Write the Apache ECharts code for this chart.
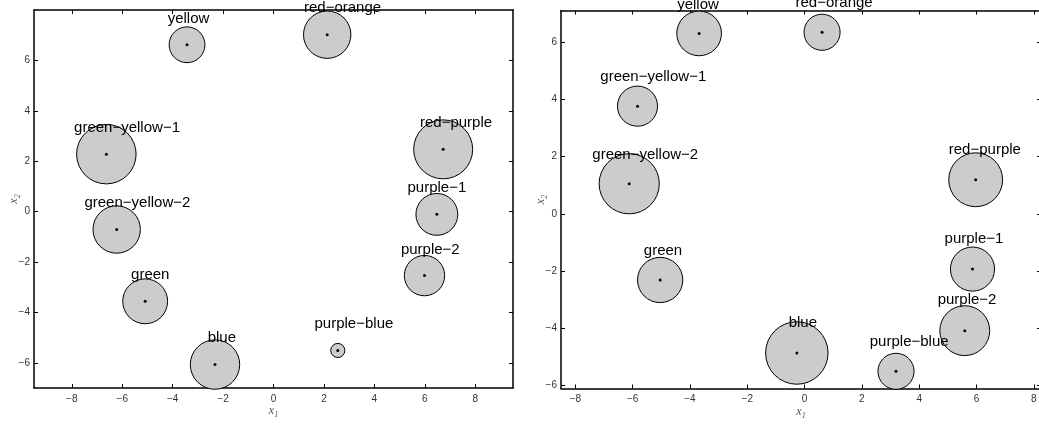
<!DOCTYPE html>
<html>
<head>
<meta charset="utf-8">
<script src="https://cdn.jsdelivr.net/npm/echarts@6/dist/echarts.min.js"></script>
<style>
html,body{margin:0;padding:0;background:#fff;}
#chart{width:1039px;height:425px;}
</style>
</head>
<body>
<div id="chart"></div>
<script>
// ---- data ----
const names = ['yellow','red\u2212orange','green\u2212yellow\u22121','red\u2212purple','purple\u22121',
               'green\u2212yellow\u22122','purple\u22122','green','blue','purple\u2212blue'];

// left panel
const leftX  = [-3.43, 2.13, -6.63, 6.73, 6.48, -6.22, 5.99, -5.09, -2.32, 2.55];
const leftY  = [ 6.62, 7.02,  2.28, 2.47, -0.11, -0.71, -2.54, -3.56, -6.07, -5.51];
const leftR  = [ 0.71, 0.94,  1.18, 1.17, 0.83, 0.94, 0.80, 0.89, 0.98, 0.28];
const leftLabelX = [-3.37, 2.74, -5.81, 7.24, 6.48, -5.40, 6.22, -4.89, -2.05, 3.19];
const leftLabelY = [ 7.66, 8.08,  3.32, 3.51, 0.93, 0.33, -1.50, -2.52, -5.03, -4.47];

// right panel
const rightX = [-3.68, 0.61, -5.83, 5.97, 5.86, -6.12, 5.59, -5.04, -0.27, 3.19];
const rightY = [ 6.30, 6.34,  3.76, 1.19, -1.93, 1.05, -4.08, -2.31, -4.86, -5.50];
const rightR = [ 0.78, 0.63,  0.70, 0.94, 0.77, 1.05, 0.87, 0.79, 1.09, 0.63];
const rightLabelX = [-3.72, 1.03, -5.28, 6.29, 5.91, -5.56, 5.67, -4.94, -0.06, 3.65];
const rightLabelY = [ 7.31, 7.37,  4.78, 2.22, -0.88, 2.07, -3.01, -1.28, -3.81, -4.46];

// tick values
const leftXTicks  = [-8,-6,-4,-2,0,2,4,6,8];
const leftYTicks  = [-6,-4,-2,0,2,4,6];
const rightXTicks = [-8,-6,-4,-2,0,2,4,6,8];
const rightYTicks = [-6,-4,-2,0,2,4,6];

// ---- chart ----
const chart = echarts.init(document.getElementById('chart'), null, {renderer:'canvas'});
const fmt = v => String(v).replace('-', '\u2212');
const nameRich = {
  i: {fontFamily:'Liberation Serif', fontStyle:'italic', fontSize:12, color:'#555', lineHeight:12, verticalAlign:'top'},
  s: {fontFamily:'Liberation Serif', fontStyle:'italic', fontSize:8, color:'#555', lineHeight:8, verticalAlign:'top', padding:[6,0,0,0]}
};

function xAx(grid, pos, min, max, ticks, labels, name) {
  return {
    type:'value', gridIndex:grid, position:pos, min:min, max:max,
    name: name || '', nameLocation:'middle', nameGap:17, nameMoveOverlap:false,
    nameTextStyle:{rich:nameRich},
    axisLine:{show:true, onZero:false, lineStyle:{color:'#000', width:1.5}},
    axisTick:{show:true, inside:true, length:4, customValues:ticks, lineStyle:{color:'#000', width:1}},
    axisLabel:{show:labels, customValues:ticks, formatter:fmt, fontSize:10, color:'#333',
               fontFamily:'Liberation Sans', margin:6},
    splitLine:{show:false}
  };
}
function yAx(grid, pos, min, max, ticks, labels, name) {
  return {
    type:'value', gridIndex:grid, position:pos, min:min, max:max,
    name: name || '', nameLocation:'middle', nameGap:14, nameRotate:90, nameMoveOverlap:false,
    nameTextStyle:{rich:nameRich},
    axisLine:{show:true, onZero:false, lineStyle:{color:'#000', width:1.5}},
    axisTick:{show:true, inside:true, length:4, customValues:ticks, lineStyle:{color:'#000', width:1}},
    axisLabel:{show:labels, customValues:ticks, formatter:fmt, fontSize:10, color:'#333',
               fontFamily:'Liberation Sans', margin:4},
    splitLine:{show:false}
  };
}

function circleSeries(xi, yi, xs, ys, rs) {
  return {
    type:'custom', xAxisIndex:xi, yAxisIndex:yi, clip:false,
    data: xs.map((x,i) => [x, ys[i], rs[i]]),
    renderItem: function(params, api) {
      const c = api.coord([api.value(0), api.value(1)]);
      const s = api.size([api.value(2), api.value(2)]);
      return {type:'group', children:[
        {type:'circle', shape:{cx:c[0], cy:c[1], r:s[0]},
         style:{fill:'#cccccc', stroke:'#000', lineWidth:1}},
        {type:'circle', shape:{cx:c[0], cy:c[1], r:1.5},
         style:{fill:'#000033'}}
      ]};
    }
  };
}
function labelSeries(xi, yi, lx, ly) {
  return {
    type:'custom', xAxisIndex:xi, yAxisIndex:yi, clip:false, z:5,
    data: lx.map((x,i) => [x, ly[i], i]),
    renderItem: function(params, api) {
      const c = api.coord([api.value(0), api.value(1)]);
      return {type:'text', x:c[0], y:c[1],
        style:{text:names[api.value(2)], fill:'#000', fontSize:15,
               fontFamily:'Liberation Sans', align:'center', verticalAlign:'middle'}};
    }
  };
}

chart.setOption({
  animation:false,
  backgroundColor:'#fff',
  grid:[
    {left:34, top:10, width:479, height:378, outerBoundsMode:'none', containLabel:false},
    {left:561, top:10.5, width:480, height:378, outerBoundsMode:'none', containLabel:false}
  ],
  xAxis:[
    xAx(0,'bottom',-9.5,9.5,leftXTicks,true,'{i|x}{s|1}'),
    xAx(0,'top',-9.5,9.5,leftXTicks,false),
    xAx(1,'bottom',-8.5,8.25,rightXTicks,true,'{i|x}{s|1}'),
    xAx(1,'top',-8.5,8.25,rightXTicks,false)
  ],
  yAxis:[
    yAx(0,'left',-7,8,leftYTicks,true,'{i|x}{s|2}'),
    yAx(0,'right',-7,8,leftYTicks,false),
    yAx(1,'left',-6.1,7.1,rightYTicks,true,'{i|x}{s|2}'),
    yAx(1,'right',-6.1,7.1,rightYTicks,false)
  ],
  series:[
    circleSeries(0,0,leftX,leftY,leftR),
    labelSeries(0,0,leftLabelX,leftLabelY),
    circleSeries(2,2,rightX,rightY,rightR),
    labelSeries(2,2,rightLabelX,rightLabelY)
  ]
});
</script>
</body>
</html>
